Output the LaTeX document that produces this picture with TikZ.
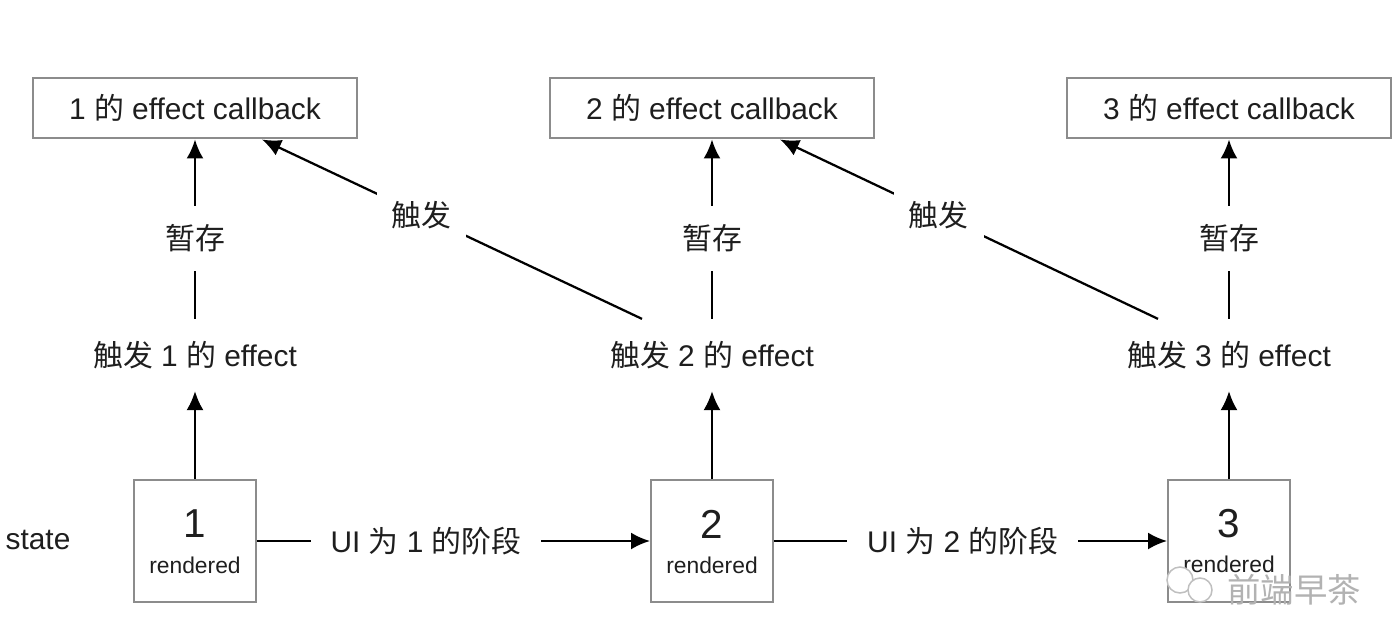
\documentclass[tikz,border=0pt]{standalone}
\usepackage{fontspec}
\setmainfont{Liberation Sans}
\newfontfamily\cjk{Noto Sans CJK SC}
\usetikzlibrary{arrows.meta, positioning, calc}
\newcommand{\zh}[1]{{\cjk #1}}

\begin{document}
\begin{tikzpicture}[x=0.02cm, y=-0.02cm, >={Latex[length=0.38cm, width=0.34cm]}, line width=0.045cm]
    % Màu
    \definecolor{boxgray}{RGB}{140, 140, 140}
    \definecolor{inkcol}{RGB}{30, 30, 30}
    \tikzset{
        txt/.style={font=\fontsize{17}{20}\selectfont, text=inkcol},
        cbbox/.style={txt, draw=boxgray, line width=0.04cm, minimum width=6.48cm, minimum height=1.22cm, inner sep=0},
        statebox/.style={draw=boxgray, line width=0.04cm, minimum width=2.44cm, minimum height=2.44cm, inner sep=0},
        digit/.style={font=\fontsize{23}{27}\selectfont, text=inkcol, inner sep=0},
        smalltxt/.style={font=\fontsize{13}{15}\selectfont, text=inkcol, inner sep=0},
        fxlbl/.style={txt, inner sep=0, minimum height=1.4cm},
        gaplbl/.style={txt, fill=white, inner xsep=2pt, inner ysep=0, minimum height=1.3cm},
        gapdiag/.style={txt, fill=white, inner sep=0.3cm},
        gaphor/.style={txt, fill=white, inner xsep=0.4cm, inner ysep=2pt}
    }
    \useasboundingbox (0,0) rectangle (1400,622);

    % 1. Hộp effect callback phía trên
    \node[cbbox] (cb1) at (195,108) {1 \zh{的} effect callback};
    \node[cbbox] (cb2) at (712,108) {2 \zh{的} effect callback};
    \node[cbbox] (cb3) at (1229,108) {3 \zh{的} effect callback};

    % 2. Nhãn giữa
    \node[fxlbl] (fx1) at (195,355) {\zh{触发} 1 \zh{的} effect};
    \node[fxlbl] (fx2) at (712,355) {\zh{触发} 2 \zh{的} effect};
    \node[fxlbl] (fx3) at (1229,355) {\zh{触发} 3 \zh{的} effect};

    % 3. Hộp state phía dưới
    \node[txt] (state) at (38,540) {state};
    \node[statebox] (st1) at (195,541) {};
    \node[statebox] (st2) at (712,541) {};
    \node[statebox] (st3) at (1229,541) {};
    \node[digit] (n1) at ([yshift=0.34cm]st1.center) {1};
    \node[digit] (n2) at ([yshift=0.34cm]st2.center) {2};
    \node[digit] (n3) at ([yshift=0.34cm]st3.center) {3};
    \node[smalltxt] (r1) at ([yshift=-0.48cm]st1.center) {rendered};
    \node[smalltxt] (r2) at ([yshift=-0.48cm]st2.center) {rendered};
    \node[smalltxt] (r3) at ([yshift=-0.46cm]st3.center) {rendered};

    % 4. Mũi tên
    \draw[->] (st1) -- (fx1);
    \draw[->] (st2) -- (fx2);
    \draw[->] (st3) -- (fx3);
    \draw[->] (fx1) -- node[gaplbl, pos=0.45] {\zh{暂存}} (cb1);
    \draw[->] (fx2) -- node[gaplbl, pos=0.45] {\zh{暂存}} (cb2);
    \draw[->] (fx3) -- node[gaplbl, pos=0.45] {\zh{暂存}} (cb3);
    \draw[->] ([xshift=-1.4cm]fx2.north) -- node[gapdiag, pos=0.58] {\zh{触发}} ([xshift=1.34cm]cb1.south);
    \draw[->] ([xshift=-1.42cm]fx3.north) -- node[gapdiag, pos=0.58] {\zh{触发}} ([xshift=1.36cm]cb2.south);
    \draw[->] (st1) -- node[gaphor, pos=0.43] {UI \zh{为} 1 \zh{的阶段}} (st2);
    \draw[->] (st2) -- node[gaphor, pos=0.48] {UI \zh{为} 2 \zh{的阶段}} (st3);

    % 5. Watermark
    \draw[gray!50, line width=0.03cm, fill=white] (1180,580) circle (13);
    \draw[gray!50, line width=0.03cm, fill=white] (1200,590) circle (12);
    \node[font=\cjk\fontsize{19}{23}\selectfont, text=gray!60, inner sep=0] (wm) at (1294,590) {前端早茶};
\end{tikzpicture}
\end{document}
